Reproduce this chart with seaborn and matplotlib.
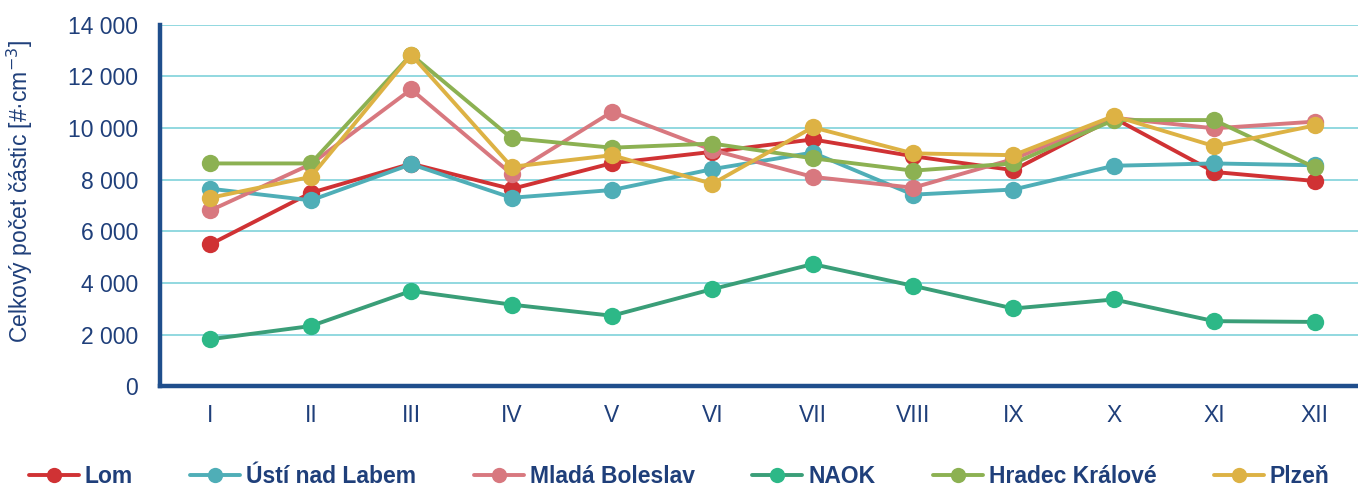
import pandas as pd
import numpy as np
import matplotlib.pyplot as plt
import seaborn as sns
from matplotlib.ticker import FuncFormatter
from matplotlib.lines import Line2D

# Months (Roman numerals)
months = ["I", "II", "III", "IV", "V", "VI", "VII", "VIII", "IX", "X", "XI", "XII"]

# Monthly total particle counts [#/cm3]
lom = [5500, 7490, 8620, 7640, 8640, 9080, 9560, 8910, 8370, 10390, 8300, 7950]
usti = [7650, 7200, 8600, 7300, 7600, 8410, 9050, 7420, 7620, 8540, 8630, 8560]
mlada = [6810, 8600, 11500, 8220, 10630, 9150, 8110, 7690, 8800, 10400, 9990, 10250]
naok = [1820, 2330, 3690, 3160, 2730, 3760, 4730, 3890, 3010, 3360, 2520, 2490]
hradec = [8630, 8630, 12850, 9610, 9240, 9400, 8830, 8350, 8630, 10310, 10310, 8480]
plzen = [7300, 8110, 12840, 8500, 8950, 7840, 10030, 9020, 8950, 10470, 9300, 10100]

stations = ["Lom", "Ústí nad Labem", "Mladá Boleslav", "NAOK", "Hradec Králové", "Plzeň"]
colors = ["#D03234", "#4FAEB7", "#D8787F", "#3A9E78", "#8CB152", "#DDB244"]
marker_colors = ["#D03234", "#4FAEB7", "#D8787F", "#2DB887", "#8CB152", "#DDB244"]

navy = "#1F3F7A"

df = pd.DataFrame({
    "month": np.tile(np.arange(len(months)), len(stations)),
    "station": np.repeat(stations, len(months)),
    "value": lom + usti + mlada + naok + hradec + plzen,
})

sns.set_theme(style="white")
plt.rcParams["font.family"] = ["Liberation Sans", "DejaVu Sans"]

fig = plt.figure(figsize=(13.58, 4.87), dpi=100)
ax = fig.add_axes([0.118, 0.207, 0.887, 0.742])

sns.lineplot(data=df, x="month", y="value", hue="station", hue_order=stations,
             palette=colors, marker="o", markersize=12.5, markeredgewidth=0,
             linewidth=2.8, sort=False, legend=False, ax=ax)

for line, mc in zip(ax.lines, marker_colors):
    line.set_markerfacecolor(mc)
    line.set_markeredgecolor(mc)

ax.set_xlim(-0.5, 11.5)
ax.set_ylim(0, 14000)
ax.set_xticks(range(len(months)))
ax.set_xticklabels(months)
ax.set_yticks(range(0, 14001, 2000))
ax.yaxis.set_major_formatter(FuncFormatter(lambda v, p: f"{int(v):,}".replace(",", " ")))

ax.grid(axis="y", color="#7FD2DA", linewidth=1.2)
ax.set_axisbelow(True)
for s in ["top", "right"]:
    ax.spines[s].set_visible(False)
for s in ["left", "bottom"]:
    ax.spines[s].set_color("#1F4E8C")
    ax.spines[s].set_linewidth(3.2)

ax.tick_params(axis="both", length=0, labelsize=16.5, labelcolor=navy)
ax.tick_params(axis="y", pad=16)
ax.tick_params(axis="x", pad=13)

ax.set_xlabel("")
ax.set_ylabel("Celkový počet částic [#·cm$^{-3}$]", fontsize=16.5, color=navy)
ax.yaxis.set_label_coords(-0.104, 0.54)

handles = [Line2D([0], [0], color=c, lw=2.8, marker="o", markersize=11,
                  markerfacecolor=mc, markeredgewidth=0)
           for c, mc in zip(colors, marker_colors)]
leg = fig.legend(handles, stations, loc="lower center", bbox_to_anchor=(0.5, -0.045),
                 ncol=6, frameon=False, handlelength=2.2, handletextpad=0.25,
                 columnspacing=2.5, prop={"weight": "bold", "size": 16.5})
for t in leg.get_texts():
    t.set_color(navy)

plt.savefig("out.png", dpi=100)
